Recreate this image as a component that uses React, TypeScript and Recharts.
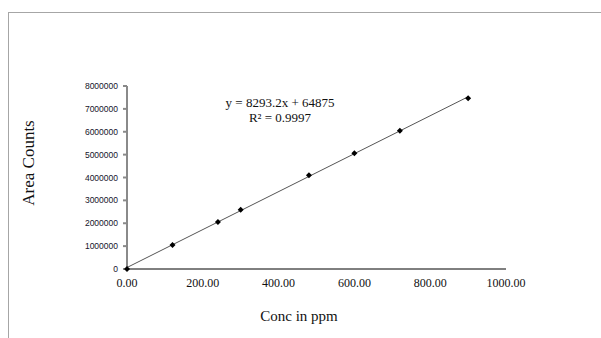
import { ScatterChart, Scatter, XAxis, YAxis } from 'recharts';

const concPpm = [0, 120, 240, 300, 480, 600, 720, 900];
const areaCounts = [0, 1050000, 2055000, 2595000, 4095000, 5055000, 6045000, 7460000];
const xTicks = [0, 200, 400, 600, 800, 1000];
const yTicks = [0, 1000000, 2000000, 3000000, 4000000, 5000000, 6000000, 7000000, 8000000];

// trendline as written on the chart
const slope = 8293.2;
const intercept = 64875;
const trendX = [0, 900];

const points = concPpm.map((x, i) => ({ x, y: areaCounts[i] }));
const trend = trendX.map((x) => ({ x, y: slope * x + intercept }));

const serif = '"Liberation Serif", "DejaVu Serif", serif';

const Diamond = (props: any) => {
  const { cx, cy } = props;
  const r = 3;
  return <polygon points={`${cx},${cy - r} ${cx + r},${cy} ${cx},${cy + r} ${cx - r},${cy}`} fill="#000" />;
};

export default function App() {
  return (
    <div style={{ position: 'absolute', left: 0, top: 0, width: 601, height: 338, overflow: 'hidden', background: '#fff' }}>
      <div style={{ position: 'absolute', left: 8, top: 12, width: 700, height: 400, border: '1px solid #a6a6a6' }} />
      <div style={{ position: 'absolute', left: 0, top: 0 }}>
        <ScatterChart width={601} height={338} margin={{ top: 86, right: 95, bottom: 0, left: 0 }}>
          <XAxis
            type="number"
            dataKey="x"
            domain={[0, 1000]}
            ticks={xTicks}
            tickFormatter={(v: number) => v.toFixed(2)}
            stroke="#000"
            tickLine={false}
            tickMargin={3}
            height={69}
            tick={{ fill: '#111', fontSize: 12, fontFamily: serif }}
          />
          <YAxis
            type="number"
            dataKey="y"
            domain={[0, 8000000]}
            ticks={yTicks}
            interval={0}
            width={127}
            stroke="#8a8a8a"
            strokeWidth={2}
            tickSize={4}
            tickMargin={5}
            tick={{ fill: '#14142a', fontSize: 8.5, fontFamily: '"Liberation Sans", Arial, sans-serif' }}
          />
          <Scatter data={trend} line={{ stroke: '#555', strokeWidth: 1 }} shape={() => null} isAnimationActive={false} />
          <Scatter data={points} shape={Diamond} isAnimationActive={false} />
        </ScatterChart>
      </div>
      <div style={{ position: 'absolute', left: 29, top: 163, transform: 'translate(-50%, -50%) rotate(-90deg)', fontFamily: serif, fontSize: 17, whiteSpace: 'nowrap', color: '#111' }}>
        Area Counts
      </div>
      <div style={{ position: 'absolute', left: 299, top: 316, transform: 'translate(-50%, -50%)', fontFamily: serif, fontSize: 15, whiteSpace: 'nowrap', color: '#111' }}>
        Conc in ppm
      </div>
      <div style={{ position: 'absolute', left: 280, top: 110, transform: 'translate(-50%, -50%)', fontFamily: serif, fontSize: 13, lineHeight: '15px', textAlign: 'center', whiteSpace: 'nowrap', color: '#111' }}>
        <div>y = {slope}x + {intercept}</div>
        <div>R² = 0.9997</div>
      </div>
    </div>
  );
}
